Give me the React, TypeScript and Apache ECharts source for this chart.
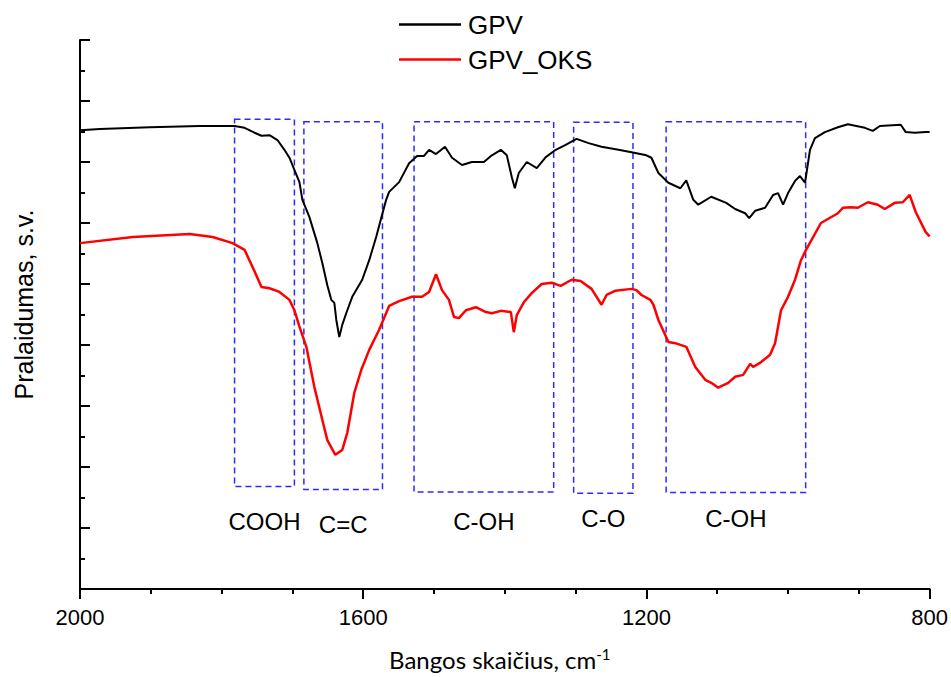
import React, { useEffect, useRef } from "react";
import * as echarts from "echarts";

// GPV (black) spectrum: wavenumber (cm-1) and transmittance (arbitrary units)
const gpvWavenumber = [2000, 1971.8, 1901.4, 1831, 1781.7, 1767.6, 1753.5, 1743.7, 1732.4, 1721.1, 1711.3, 1704.2, 1697.2, 1690.1, 1685.9, 1676.1, 1664.8, 1657.7, 1650.7, 1645.1, 1640.8, 1638, 1633.8, 1629.6, 1624, 1615.5, 1601.4, 1591.5, 1581.7, 1574.6, 1567.6, 1563.4, 1549.3, 1535.2, 1523.9, 1514.1, 1507, 1497.2, 1484.5, 1474.6, 1460.5, 1446.5, 1429.6, 1418.3, 1405.6, 1397.2, 1390.1, 1385.9, 1380.3, 1369, 1354.9, 1342.2, 1328.1, 1314.1, 1298.6, 1281.7, 1263.4, 1239.4, 1221.1, 1200, 1193, 1183.1, 1169, 1152.1, 1143.7, 1133.8, 1126.8, 1108.5, 1087.3, 1074.7, 1060.6, 1054.9, 1046.5, 1032.4, 1021.1, 1014.1, 1007, 1000, 990.1, 983.1, 976, 969, 962, 947.9, 929.6, 915.5, 891.5, 880.3, 870.4, 840.8, 833.8, 821.1, 805.6, 800];
const gpvValues = [75.2, 75.4, 75.7, 75.9, 75.9, 75.6, 74.8, 74.3, 74.4, 73.6, 72.0, 70.7, 68.7, 66.7, 63.8, 61.0, 56.7, 53.4, 49.8, 47.4, 46.9, 44.1, 41.3, 43.3, 45.2, 47.9, 50.7, 53.9, 57.7, 60.8, 63.8, 65.1, 66.7, 69.8, 71.0, 71.0, 72.0, 71.3, 72.5, 70.7, 69.5, 70.0, 70.0, 71.1, 72.0, 71.1, 67.5, 65.7, 68.2, 70.0, 69.0, 70.8, 72.0, 72.8, 73.8, 73.1, 72.5, 72.0, 71.6, 71.1, 70.7, 68.2, 66.6, 65.7, 67.0, 63.8, 63.0, 64.3, 63.3, 62.3, 61.6, 60.8, 62.0, 62.5, 64.6, 64.9, 63.0, 64.9, 66.9, 67.7, 66.6, 72.0, 73.9, 74.9, 75.7, 76.2, 75.6, 75.1, 75.9, 76.1, 74.9, 74.8, 74.9, 74.9];

// GPV_OKS (red) spectrum
const oksWavenumber = [2000, 1925.4, 1845.1, 1812.7, 1784.5, 1767.6, 1756.3, 1743.7, 1732.4, 1718.3, 1704.2, 1697.2, 1690.1, 1680.3, 1669, 1657.7, 1650.7, 1639.4, 1629.6, 1622.5, 1612.7, 1602.8, 1591.5, 1577.5, 1563.4, 1549.3, 1531, 1516.9, 1507, 1497.2, 1488.7, 1478.9, 1471.8, 1464.8, 1454.9, 1440.8, 1426.8, 1418.3, 1405.6, 1391.5, 1387.3, 1383.1, 1373.2, 1362, 1347.9, 1333.8, 1321.1, 1305.6, 1293, 1277.5, 1270.4, 1263.4, 1256.3, 1243.7, 1221.1, 1214.1, 1207, 1194.4, 1190.1, 1183.1, 1176.8, 1169, 1159.2, 1143.7, 1131, 1116.9, 1108.5, 1098.6, 1084.5, 1074.7, 1063.4, 1053.5, 1049.3, 1038, 1025.4, 1018.3, 1009.9, 1000, 990.1, 981.7, 974.6, 953.5, 929.6, 922.5, 911.3, 901.4, 887.3, 873.2, 863.4, 849.3, 838, 828.2, 819.7, 805.6, 800];
const oksValues = [56.7, 57.7, 58.2, 57.7, 56.7, 55.6, 52.8, 49.5, 49.3, 48.7, 47.4, 45.7, 43.0, 39.7, 33.1, 27.7, 24.4, 22.0, 22.8, 25.6, 32.1, 35.9, 39.2, 42.5, 46.4, 47.2, 47.9, 47.9, 48.7, 51.6, 49.0, 47.4, 44.6, 44.4, 45.7, 46.2, 45.4, 45.2, 45.6, 45.4, 42.1, 44.9, 47.0, 48.5, 50.0, 50.2, 49.7, 50.7, 50.5, 49.2, 47.9, 46.6, 48.2, 48.9, 49.2, 49.0, 48.2, 47.4, 46.6, 44.1, 42.5, 40.5, 40.3, 39.7, 36.4, 34.3, 33.8, 33.0, 33.8, 34.8, 35.1, 36.9, 36.4, 37.2, 38.4, 40.3, 45.7, 47.9, 50.7, 53.9, 55.6, 60.0, 61.6, 62.5, 62.6, 62.5, 63.4, 63.0, 62.3, 63.3, 63.4, 64.6, 61.8, 58.5, 57.8];

// Band assignment boxes
const boxLabels = ["COOH", "C=C", "C-OH", "C-O", "C-OH"];
const boxFrom = [1781.7, 1683.8, 1528.2, 1302.8, 1172.2];
const boxTo = [1697.2, 1572.8, 1331.0, 1219.0, 975.1];
const boxTop = [77.0, 76.6, 76.6, 76.5, 76.6];
const boxBottom = [16.8, 16.3, 15.9, 15.7, 15.8];
const boxLabelGap = [22, 22, 17, 13, 13];

const seriesNames = ["GPV", "GPV_OKS"];

const FONT = "Liberation Sans, Arial, sans-serif";

export default function App() {
  const ref = useRef<HTMLDivElement>(null);

  useEffect(() => {
    if (!ref.current) return;
    const chart = echarts.init(ref.current, undefined, { renderer: "svg" });

    const gpvData = gpvWavenumber.map((x, i) => [x, gpvValues[i]]);
    const oksData = oksWavenumber.map((x, i) => [x, oksValues[i]]);

    const areas = boxLabels.map((name, i) => [
      {
        name,
        xAxis: boxFrom[i],
        yAxis: boxTop[i],
        label: { distance: boxLabelGap[i] },
      },
      { xAxis: boxTo[i], yAxis: boxBottom[i] },
    ]);

    chart.setOption({
      animation: false,
      backgroundColor: "#ffffff",
      grid: { left: 80, right: 19, top: 40, bottom: 88, containLabel: false },
      legend: {
        data: seriesNames.map((n) => ({ name: n, icon: "rect" })),
        orient: "vertical",
        left: 394,
        top: 5,
        itemWidth: 62,
        itemHeight: 2.5,
        itemGap: 6,
        textStyle: {
          fontSize: 26,
          fontFamily: FONT,
          color: "#000",
          lineHeight: 29,
          padding: [0, 0, 0, 2],
        },
      },
      xAxis: {
        type: "value",
        inverse: true,
        min: 800,
        max: 2000,
        interval: 400,
        name: "{a|Bangos skaičius, cm}{b|-1}",
        nameLocation: "middle",
        nameGap: 57,
        nameTextStyle: {
          padding: [0, 10, 0, 0],
          rich: {
            a: { fontFamily: "Lato, sans-serif", fontSize: 24, color: "#000" },
            b: { fontFamily: "Lato, sans-serif", fontSize: 15, color: "#000", padding: [0, 0, 12, 0] },
          },
        },
        axisLine: { show: true, onZero: false, lineStyle: { color: "#000", width: 2 } },
        axisTick: { show: true, inside: false, length: 10, lineStyle: { color: "#000", width: 2 } },
        minorTick: { show: true, splitNumber: 4, length: 5, lineStyle: { color: "#000", width: 2 } },
        axisLabel: {
          fontSize: 22,
          fontFamily: FONT,
          color: "#000",
          margin: 17,
          formatter: (v: number) => String(v),
        },
        splitLine: { show: false },
      },
      yAxis: {
        type: "value",
        min: 0,
        max: 90,
        interval: 10,
        name: "Pralaidumas, s.v.",
        nameLocation: "middle",
        nameGap: 44,
        nameTextStyle: { fontSize: 25, fontFamily: FONT, color: "#000", padding: [0, 0, 0, 20] },
        axisLine: { show: true, onZero: false, lineStyle: { color: "#000", width: 2 } },
        axisTick: { show: true, inside: true, length: 10, lineStyle: { color: "#000", width: 2 } },
        minorTick: { show: true, splitNumber: 2, length: 5, lineStyle: { color: "#000", width: 2 } },
        axisLabel: { show: false },
        splitLine: { show: false },
      },
      series: [
        {
          name: "GPV",
          type: "line",
          data: gpvData,
          symbol: "none",
          z: 3,
          lineStyle: { color: "#000000", width: 2 },
          itemStyle: { color: "#000000" },
          markArea: {
            silent: true,
            z: 1,
            itemStyle: {
              color: "rgba(0,0,0,0)",
              borderColor: "#2b2bff",
              borderWidth: 1.5,
              borderType: [6, 4],
            },
            label: {
              show: true,
              position: "bottom",
              color: "#000",
              fontSize: 24,
              lineHeight: 24,
              fontFamily: FONT,
            },
            data: areas,
          },
        },
        {
          name: "GPV_OKS",
          type: "line",
          data: oksData,
          symbol: "none",
          z: 3,
          lineStyle: { color: "#ff0000", width: 2.5 },
          itemStyle: { color: "#ff0000" },
        },
      ],
    });

    return () => chart.dispose();
  }, []);

  return (
    <div
      ref={ref}
      style={{ position: "fixed", left: 0, top: 0, width: 951, height: 677 }}
    />
  );
}
